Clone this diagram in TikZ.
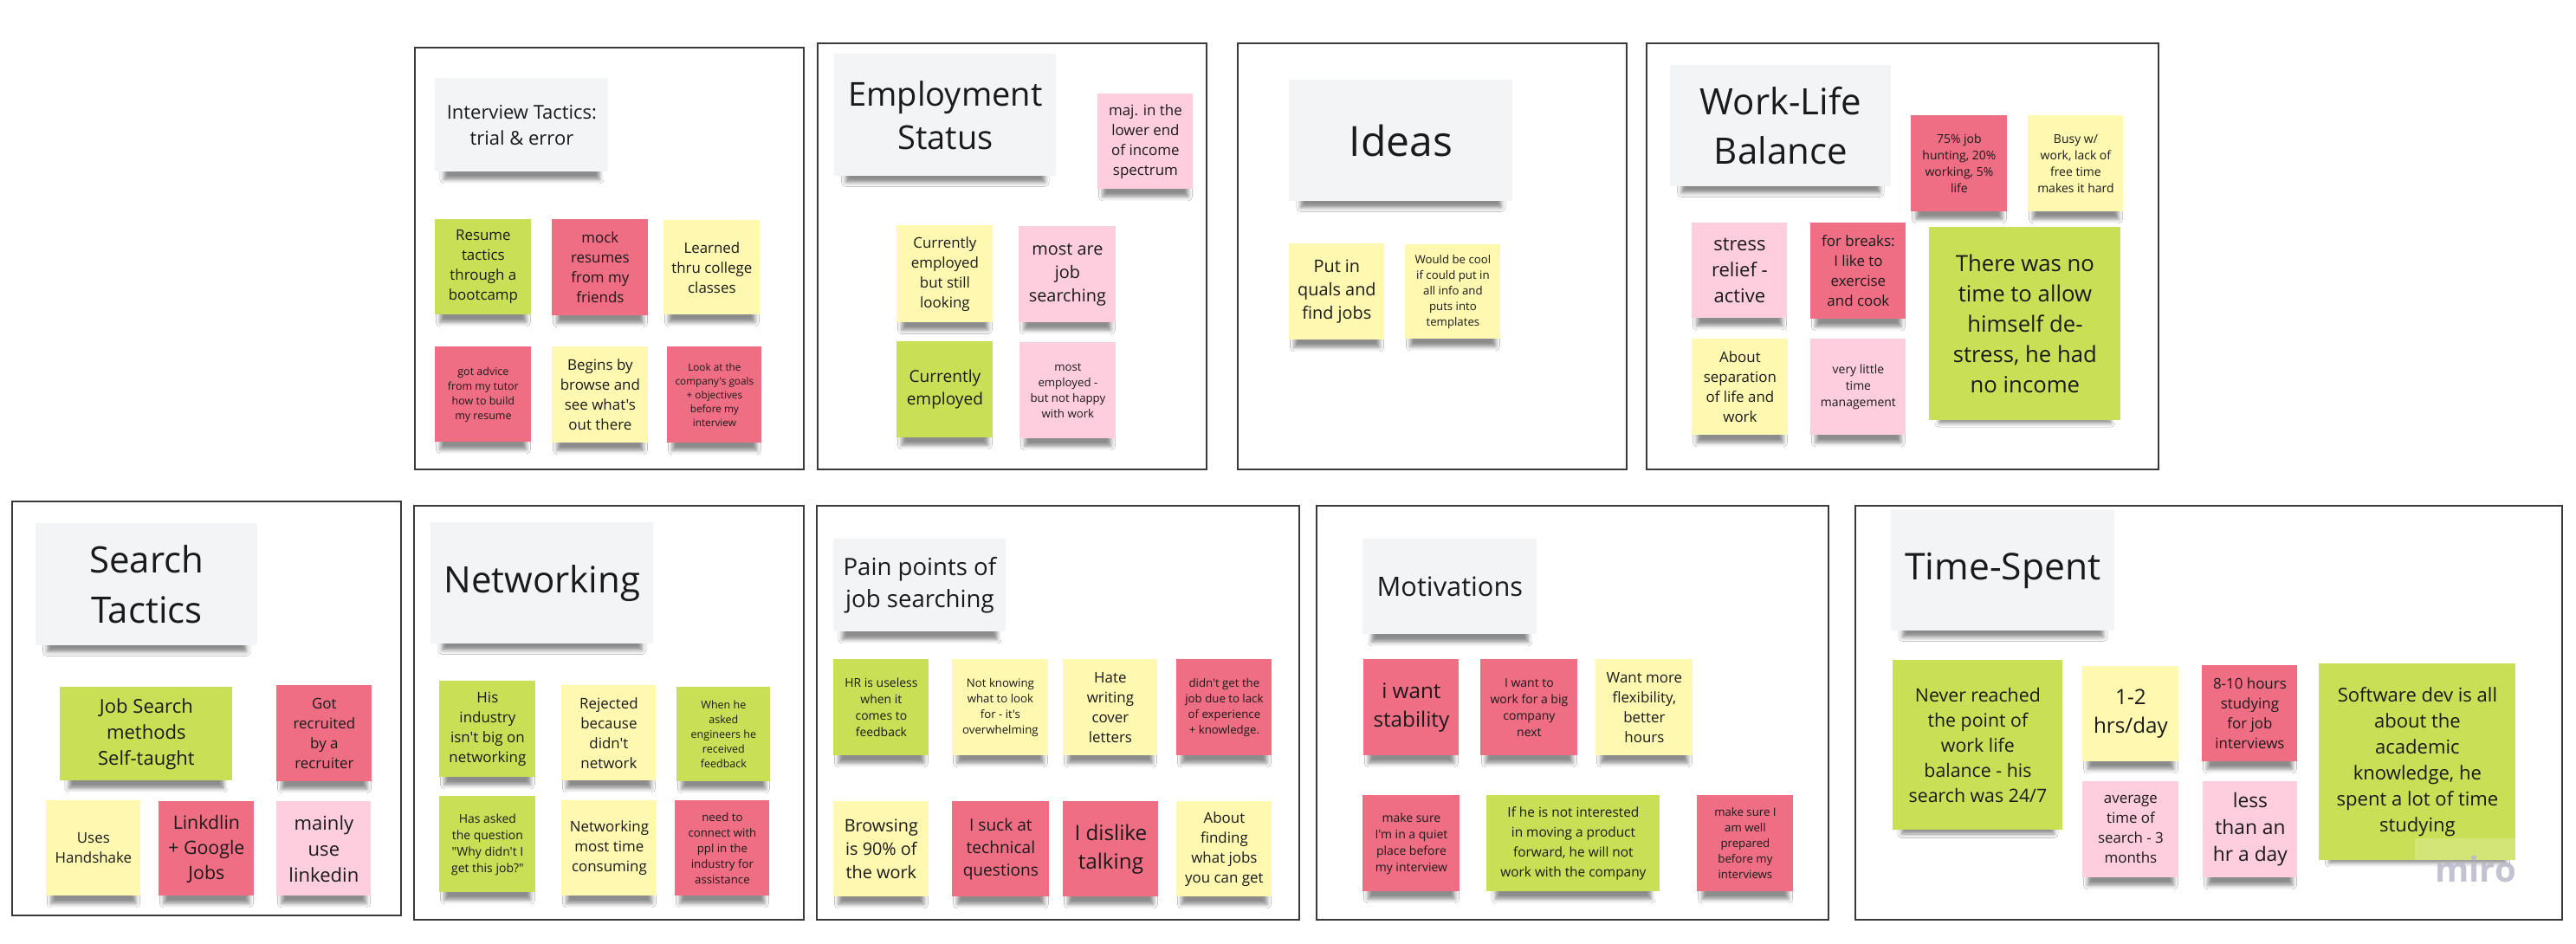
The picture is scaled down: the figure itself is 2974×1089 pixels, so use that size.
\documentclass[tikz,border=0pt]{standalone}
\usepackage{fontspec}
\setmainfont{Open Sans}[Ligatures=TeXOff]
\usepackage{xcolor}
\usepackage{tikz}
\usetikzlibrary{shadows.blur}
\definecolor{ngreen}{HTML}{C9DF56}
\definecolor{nred}{HTML}{EF6E84}
\definecolor{nyellow}{HTML}{FFF8B0}
\definecolor{npink}{HTML}{FECDDE}
\definecolor{cardgray}{HTML}{F3F4F6}
\definecolor{ink}{HTML}{1A1A1A}
\definecolor{framegray}{HTML}{3A3A3A}
\definecolor{mirogray}{HTML}{B8B8C8}
\newcommand\fs[2]{\fontsize{#1}{#2}\selectfont}
\tikzset{
  panel/.style={draw=framegray, line width=1pt},
  shade below/.style={blur shadow={shadow xshift=0pt, shadow yshift=-8pt,
                      shadow scale=0.9, shadow blur radius=2.5pt, shadow opacity=45}},
  card/.style={anchor=north west, fill=cardgray, inner sep=0pt, align=center,
               text=ink, shade below},
  note/.style={anchor=north west, minimum width=55pt, minimum height=55pt,
               inner sep=0pt, align=center, text=ink, shade below},
  sz/.style 2 args={minimum width=#1*0.5pt, minimum height=#2*0.5pt},
  lh/.style={font={\fontsize{\fpeval{#1/2.72}}{\fpeval{#1/2}}\selectfont}},
}

\begin{document}
\begin{tikzpicture}[x=0.5pt, y=-0.5pt]
  \fill[white] (0,0) rectangle (2974,1089);
  \useasboundingbox (0,0) rectangle (2974,1089);

  % frames
  \draw[panel] (479,55) rectangle (928,542);
  \draw[panel] (944,50) rectangle (1393,542);
  \draw[panel] (1429,50) rectangle (1878,542);
  \draw[panel] (1901,50) rectangle (2492,542);
  \draw[panel] (14,579) rectangle (463,1057);
  \draw[panel] (478,584) rectangle (928,1062);
  \draw[panel] (943,584) rectangle (1500,1062);
  \draw[panel] (1520,584) rectangle (2111,1062);
  \draw[panel] (2142,584) rectangle (2958,1062);

  % interview tactics
  \node[card, sz={200}{108}, font=\fs{11}{15}] (tInt) at (502,90) {Interview Tactics:\\trial \& error};
  \node[note, fill=ngreen, sz={111}{110}, lh=23] (resume) at (502,253) {Resume\\tactics\\through a\\bootcamp};
  \node[note, fill=nred, sz={111}{111}, lh=23] (mock) at (637,253) {mock\\resumes\\from my\\friends};
  \node[note, fill=nyellow, sz={111}{109}, lh=23] (college) at (766,254) {Learned\\thru college\\classes};
  \node[note, fill=nred, sz={111}{110}, lh=17] (tutor) at (502,400) {got advice\\from my tutor\\how to build\\my resume};
  \node[note, fill=nyellow, sz={111}{111}, lh=23] (browse) at (637,400) {Begins by\\browse and\\see what's\\out there};
  \node[note, fill=nred, sz={109}{111}, lh=16] (goals) at (770,400) {Look at the\\company's goals\\+ objectives\\before my\\interview};

  % employment status
  \node[card, sz={256}{141}, font=\fs{19}{25}] (tEmp) at (963,62) {Employment\\Status};
  \node[note, fill=npink, sz={110}{110}, lh=23] (income) at (1267,108) {maj. in the\\lower end\\of income\\spectrum};
  \node[note, fill=nyellow, sz={111}{112}, lh=23] (still) at (1035,260) {Currently\\employed\\but still\\looking};
  \node[note, fill=npink, sz={112}{111}, lh=27] (mostjob) at (1176,261) {most are\\job\\searching};
  \node[note, fill=ngreen, sz={111}{111}, lh=26] (employed) at (1035,394) {Currently\\employed};
  \node[note, fill=npink, sz={111}{111}, lh=18] (unhappy) at (1177,395) {most\\employed -\\but not happy\\with work};

  % ideas
  \node[card, sz={258}{140}, font=\fs{24}{30}] (tIdea) at (1488,92) {Ideas};
  \node[note, fill=nyellow, sz={110}{111}, lh=27] (quals) at (1488,281) {Put in\\quals and\\find jobs};
  \node[note, fill=nyellow, sz={110}{109}, lh=18] (templ) at (1622,282) {Would be cool\\if could put in\\all info and\\puts into\\templates};

  % work-life balance
  \node[card, sz={255}{140}, font=\fs{21}{28.5}] (tWork) at (1928,75) {Work-Life\\Balance};
  \node[note, fill=nred, sz={111}{111}, lh=19] (split) at (2206,133) {75\% job\\hunting, 20\%\\working, 5\%\\life};
  \node[note, fill=nyellow, sz={110}{111}, lh=19] (busy) at (2341,133) {Busy w/\\work, lack of\\free time\\makes it hard};
  \node[note, fill=npink, sz={110}{110}, lh=30] (relief) at (1953,257) {stress\\relief -\\active};
  \node[note, fill=nred, sz={110}{111}, lh=23] (breaks) at (2090,257) {for breaks:\\I like to\\exercise\\and cook};
  \node[note, fill=ngreen, sz={221}{223}, lh=35] (destress) at (2227,262) {There was no\\time to allow\\himself de-\\stress, he had\\no income};
  \node[note, fill=nyellow, sz={111}{111}, lh=23] (separ) at (1953,391) {About\\separation\\of life and\\work};
  \node[note, fill=npink, sz={110}{111}, lh=19] (manage) at (2090,391) {very little\\time\\management};

  % search tactics
  \node[card, sz={256}{141}, font=\fs{21}{29}] (tSearch) at (41,604) {Search\\Tactics};
  \node[note, fill=ngreen, sz={199}{108}, lh=30] (selftaught) at (69,793) {Job Search\\methods\\Self-taught};
  \node[note, fill=nred, sz={110}{111}, lh=23] (recruit) at (319,791) {Got\\recruited\\by a\\recruiter};
  \node[note, fill=nyellow, sz={109}{110}, lh=23] (hshake) at (53,924) {Uses\\Handshake};
  \node[note, fill=nred, sz={110}{109}, lh=29] (google) at (183,925) {Linkdlin\\+ Google\\Jobs};
  \node[note, fill=npink, sz={109}{109}, lh=30] (linkedin) at (319,925) {mainly\\use\\linkedin};

  % networking
  \node[card, sz={257}{140}, font=\fs{21}{28}] (tNet) at (497,603) {Networking};
  \node[note, fill=ngreen, sz={111}{111}, lh=23] (industry) at (507,786) {His\\industry\\isn't big on\\networking};
  \node[note, fill=nyellow, sz={109}{110}, lh=23] (rejected) at (648,791) {Rejected\\because\\didn't\\network};
  \node[note, fill=ngreen, sz={108}{109}, lh=17] (engineers) at (781,793) {When he\\asked\\engineers he\\received\\feedback};
  \node[note, fill=ngreen, sz={111}{111}, lh=19] (question) at (507,919) {Has asked\\the question\\"Why didn't I\\get this job?"};
  \node[note, fill=nyellow, sz={110}{110}, lh=23] (consuming) at (648,924) {Networking\\most time\\consuming};
  \node[note, fill=nred, sz={109}{110}, lh=18] (connect) at (779,924) {need to\\connect with\\ppl in the\\industry for\\assistance};

  % pain points
  \node[card, sz={199}{107}, font=\fs{13.8}{18.5}] (tPain) at (962,622) {Pain points of\\job searching};
  \node[note, fill=ngreen, sz={110}{111}, lh=19] (hr) at (962,761) {HR is useless\\when it\\comes to\\feedback};
  \node[note, fill=nyellow, sz={111}{111}, lh=18] (overwhelm) at (1099,761) {Not knowing\\what to look\\for - it's\\overwhelming};
  \node[note, fill=nyellow, sz={109}{111}, lh=23] (cover) at (1227,761) {Hate\\writing\\cover\\letters};
  \node[note, fill=nred, sz={110}{111}, lh=18] (lack) at (1358,761) {didn't get the\\job due to lack\\of experience\\+ knowledge.};
  \node[note, fill=nyellow, sz={110}{110}, lh=27] (browsing) at (962,925) {Browsing\\is 90\% of\\the work};
  \node[note, fill=nred, sz={112}{110}, lh=26] (technical) at (1099,925) {I suck at\\technical\\questions};
  \node[note, fill=nred, sz={110}{110}, lh=33] (talking) at (1227,925) {I dislike\\talking};
  \node[note, fill=nyellow, sz={110}{110}, lh=23] (finding) at (1358,925) {About\\finding\\what jobs\\you can get};

  % motivations
  \node[card, sz={201}{110}, font=\fs{15.4}{20}] (tMot) at (1573,622) {Motivations};
  \node[note, fill=nred, sz={110}{111}, lh=33] (stability) at (1574,761) {i want\\stability};
  \node[note, fill=nred, sz={112}{111}, lh=19] (bigco) at (1709,761) {I want to\\work for a big\\company\\next};
  \node[note, fill=nyellow, sz={112}{111}, lh=23] (flex) at (1842,761) {Want more\\flexibility,\\better\\hours};
  \node[note, fill=nred, sz={112}{111}, lh=19] (quiet) at (1573,918) {make sure\\I'm in a quiet\\place before\\my interview};
  \node[note, fill=ngreen, sz={200}{111}, font=\fs{7.7}{11.5}] (product) at (1716,918) {If he is not interested\\in moving a product\\forward, he will not\\work with the company};
  \node[note, fill=nred, sz={111}{111}, lh=18] (prepared) at (1959,918) {make sure I\\am well\\prepared\\before my\\interviews};

  % time spent
  \node[card, sz={258}{139}, font=\fs{21.3}{28}] (tTime) at (2183,589) {Time-Spent};
  \node[note, fill=ngreen, sz={196}{196}, lh=29] (never) at (2185,762) {Never reached\\the point of\\work life\\balance - his\\search was 24/7};
  \node[note, fill=nyellow, sz={111}{110}, lh=33] (hrsday) at (2404,769) {1-2\\hrs/day};
  \node[note, fill=npink, sz={111}{111}, lh=23] (average) at (2404,902) {average\\time of\\search - 3\\months};
  \node[note, fill=nred, sz={110}{111}, lh=23] (studying) at (2542,768) {8-10 hours\\studying\\for job\\interviews};
  \node[note, fill=npink, sz={109}{111}, lh=31] (lessthan) at (2543,902) {less\\than an\\hr a day};
  \node[note, fill=ngreen, sz={227}{227}, lh=30] (softdev) at (2677,766) {Software dev is all\\about the\\academic\\knowledge, he\\spent a lot of time\\studying};

  \fill[white, opacity=0.2] (2788,968) rectangle (2904,993);
  \node[font=\fs{20}{24}\bfseries, text=mirogray, text opacity=0.85, inner sep=0pt] (miro) at (2858,1003) {miro};
\end{tikzpicture}
\end{document}
